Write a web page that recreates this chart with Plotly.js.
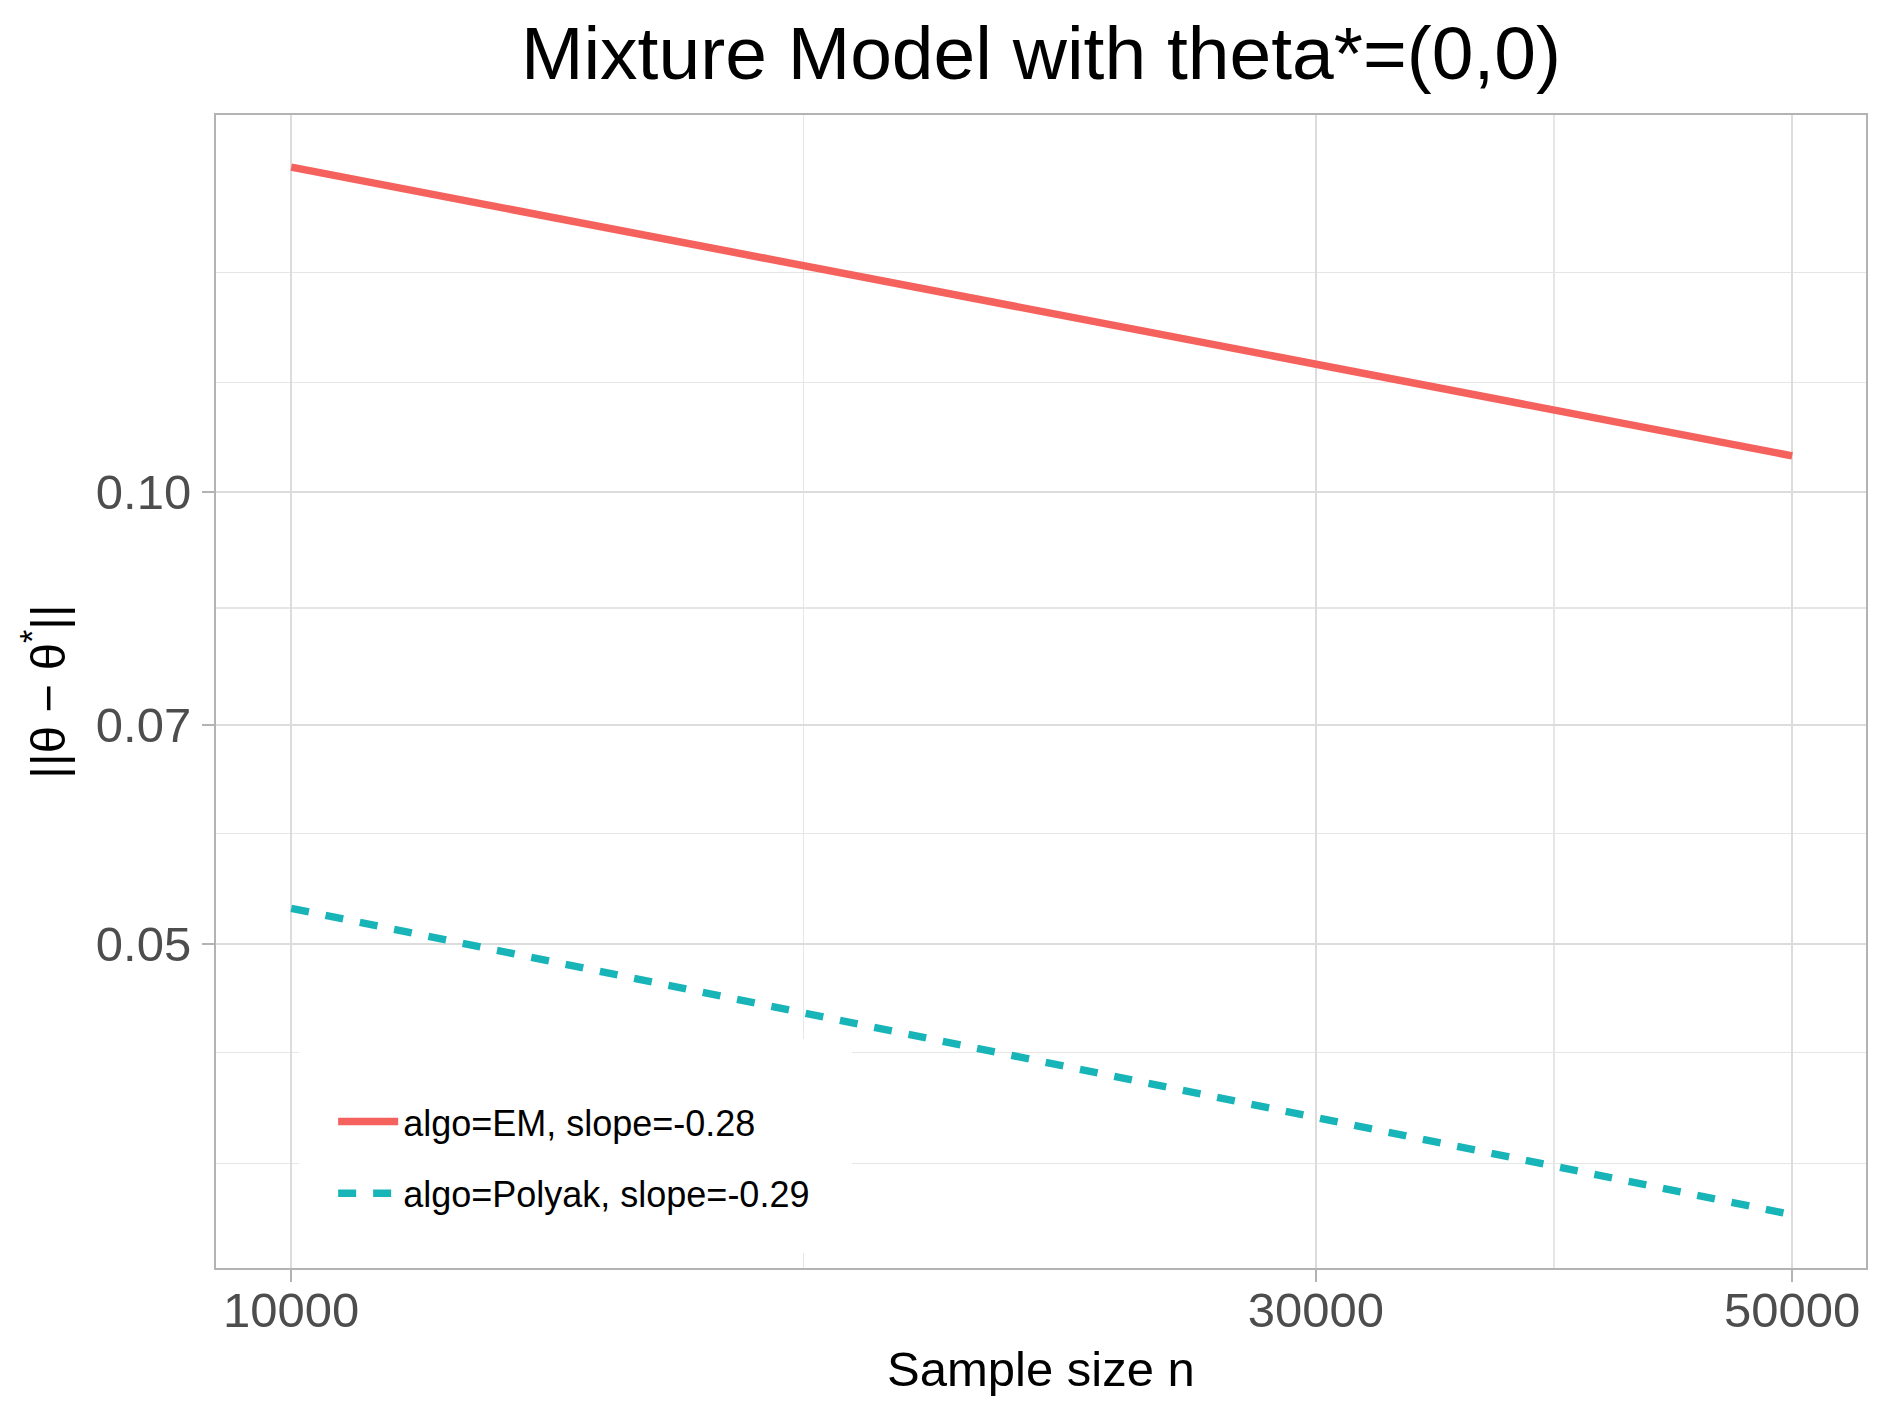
<!DOCTYPE html>
<html>
<head>
<meta charset="utf-8">
<script src="https://cdn.plot.ly/plotly-3.0.1.min.js"></script>
<style>
  html, body { margin: 0; padding: 0; background: #fff; }
  #chart { width: 1889px; height: 1417px; }
</style>
</head>
<body>
<div id="chart"></div>
<script>
// sample sizes at the ends of each fitted line
const sampleSize = [10000, 50000];

// error norms
const emError = [0.1646, 0.1057];
const polyakError = [0.0528, 0.0330];

const seriesNames = ['algo=EM, slope=-0.28', 'algo=Polyak, slope=-0.29'];

// axis breaks
const xBreaks = [10000, 30000, 50000];
const xMinor = [17320, 38730];
const yBreaks = [0.05, 0.07, 0.10];
const yLabels = ['0.05', '0.07', '0.10'];
const yMinor = [0.0357, 0.0423, 0.0592, 0.0837, 0.1183, 0.14];

const FONT = 'Liberation Sans, Arial, sans-serif';

function makeTrace(y, name, color, dash, group) {
    return {
        x: sampleSize,
        y: y,
        type: 'scatter',
        mode: 'lines',
        name: name,
        legendgroup: group,
        line: { color: color, width: 7.5, dash: dash }
    };
}

const trace1 = makeTrace(emError, seriesNames[0], '#f5615c', 'solid', 'em');
const trace2 = makeTrace(polyakError, seriesNames[1], '#17b4b8', '18px,17px', 'polyak');

const axisCommon = {
    type: 'log',
    tickmode: 'array',
    showline: true,
    mirror: true,
    linecolor: '#b3b3b3',
    linewidth: 2,
    ticks: 'outside',
    ticklen: 12,
    tickwidth: 2,
    tickcolor: '#b3b3b3',
    tickfont: { family: FONT, size: 49, color: '#4d4d4d' },
    showgrid: true,
    gridcolor: '#dcdcdc',
    gridwidth: 2,
    zeroline: false
};

const layout = {
    width: 1889,
    height: 1417,
    margin: { l: 216, r: 23, t: 115, b: 149 },
    paper_bgcolor: '#ffffff',
    plot_bgcolor: '#ffffff',
    font: { family: FONT, color: '#000000' },
    title: {
        text: 'Mixture Model with theta*=(0,0)',
        font: { family: FONT, size: 75, color: '#000000' },
        xref: 'paper',
        x: 0.5,
        xanchor: 'center',
        yref: 'container',
        y: 0.963,
        yanchor: 'middle'
    },
    xaxis: Object.assign({}, axisCommon, {
        range: [Math.log10(9225), Math.log10(54120)],
        tickvals: xBreaks,
        ticktext: xBreaks.map(String),
        ticklabelstandoff: -14,
        minor: {
            tickmode: 'array',
            tickvals: xMinor,
            ticks: '',
            showgrid: true,
            gridcolor: '#e6e6e6',
            gridwidth: 1.2
        },
        title: {
            text: 'Sample size n',
            font: { family: FONT, size: 49, color: '#000000' },
            standoff: 16
        }
    }),
    yaxis: Object.assign({}, axisCommon, {
        range: [Math.log10(0.03041), Math.log10(0.1783)],
        tickvals: yBreaks,
        ticktext: yLabels,
        ticklabelstandoff: 1,
        minor: {
            tickmode: 'array',
            tickvals: yMinor,
            ticks: '',
            showgrid: true,
            gridcolor: '#e6e6e6',
            gridwidth: 1.2
        },
        title: {
            text: '||θ \u2212 θ<sup>*</sup>||',
            font: { family: FONT, size: 49, color: '#000000' },
            standoff: 15
        }
    }),
    // white key box behind the legend, hiding the grid as in the original
    shapes: [{
        type: 'rect',
        xref: 'paper',
        yref: 'paper',
        x0: 0.0503, x1: 0.3855,
        y0: 0.013, y1: 0.1986,
        fillcolor: '#ffffff',
        line: { width: 0 },
        layer: 'above'
    }],
    showlegend: true,
    legend: {
        x: 0.071,
        xanchor: 'left',
        y: 0.153,
        yanchor: 'top',
        bgcolor: 'rgba(255,255,255,0)',
        borderwidth: 0,
        traceorder: 'grouped',
        tracegroupgap: 22,
        itemwidth: 60,
        font: { family: FONT, size: 36, color: '#000000' }
    }
};

Plotly.newPlot('chart', [trace1, trace2], layout, { displayModeBar: false, staticPlot: true });
</script>
</body>
</html>
